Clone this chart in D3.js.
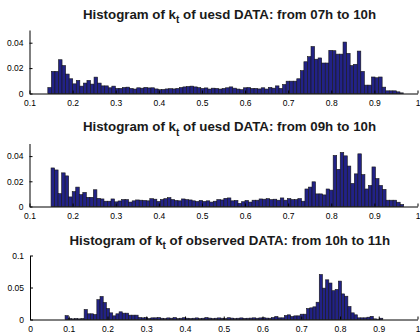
<!DOCTYPE html>
<html><head><meta charset="utf-8">
<script src="https://cdn.jsdelivr.net/npm/d3@7"></script>
<style>
html,body{margin:0;padding:0;background:#fff;}
svg{display:block;font-family:"Liberation Sans",Arial,Helvetica,sans-serif;}
</style></head>
<body><svg id="c" width="420" height="334"></svg>
<script>
// ---------- data ----------
const titles = [
  ["Histogram of k", "t", " of uesd DATA: from 07h to 10h"],
  ["Histogram of k", "t", " of uesd DATA: from 09h to 10h"],
  ["Histogram of k", "t", " of observed DATA: from 10h to 11h"]
];
const binStarts = [0.1425, 0.150, 0.0905];
const binWidths = [0.00825, 0.00818, 0.0082];

const counts1 = [
 0.0047,0.0174,0.0174,0.0266,0.022,0.0153,0.0116,0.0076,0.0103,0.0058,
 0.0082,0.0103,0.0074,0.0129,0.0082,0.006,0.006,0.0045,0.0058,0.004,
 0.004,0.0047,0.005,0.004,0.0035,0.0045,0.0042,0.0048,0.0044,0.0045,
 0.0036,0.003,0.0032,0.0036,0.0038,0.0036,0.004,0.0047,0.0052,0.0055,
 0.0058,0.0052,0.0046,0.004,0.0044,0.0035,0.0042,0.004,0.0035,0.004,
 0.0045,0.0052,0.0042,0.0035,0.003,0.0045,0.0047,0.004,0.004,0.0036,
 0.0045,0.0035,0.0048,0.0042,0.006,0.004,0.0071,0.0097,0.0097,0.0097,
 0.0116,0.018,0.025,0.029,0.037,0.027,0.028,0.024,0.024,0.034,
 0.0337,0.031,0.031,0.0405,0.0316,0.022,0.023,0.0334,0.0174,0.0066,
 0.0066,0.013,0.0124,0.013,0.005,0.0021,0.0021,0.0021,0.0013,0.0005
];
const counts2 = [
 0.0306,0.029,0.0102,0.0267,0.0243,0.0076,0.0118,0.0154,0.0094,0.0112,
 0.0073,0.0073,0.0133,0.0065,0.006,0.0042,0.0042,0.006,0.0037,0.0044,
 0.0055,0.0055,0.0035,0.0045,0.0052,0.005,0.0048,0.0045,0.0062,0.0058,
 0.004,0.0055,0.0062,0.007,0.0055,0.0048,0.0045,0.006,0.0055,0.0052,
 0.0045,0.004,0.0048,0.004,0.0045,0.0035,0.0042,0.0055,0.0052,0.0065,
 0.0068,0.0045,0.0048,0.0025,0.0038,0.0048,0.0035,0.005,0.005,0.006,
 0.0058,0.0062,0.0055,0.0058,0.005,0.0068,0.005,0.0063,0.0055,0.0055,
 0.0063,0.0042,0.0139,0.0154,0.0196,0.01,0.01,0.0092,0.0139,0.013,
 0.0405,0.0295,0.0429,0.0402,0.0321,0.0183,0.0259,0.0418,0.0253,0.0139,
 0.0167,0.0314,0.0222,0.0167,0.0136,0.005,0.005,0.005,0.0034,0.0016
];
const counts3 = [
 0.006,0.0015,0.001,0.0015,0.001,0.0015,0.0156,0.0089,0.0089,0.0078,
 0.031,0.036,0.0266,0.0172,0.0104,0.0057,0.0089,0.012,0.0099,0.0099,
 0.0068,0.0068,0.0068,0.0031,0.0026,0.003,0.0016,0.0026,0.0026,0.003,
 0.002,0.0015,0.0025,0.002,0.003,0.0015,0.002,0.0028,0.002,0.0015,
 0.002,0.0025,0.0015,0.002,0.003,0.0022,0.0015,0.002,0.0025,0.002,
 0.0015,0.0028,0.0022,0.0015,0.002,0.0025,0.0018,0.002,0.0022,0.0026,
 0.002,0.0025,0.0028,0.0022,0.002,0.003,0.0047,0.0026,0.0026,0.0062,
 0.0073,0.0047,0.0057,0.0057,0.0083,0.0083,0.0172,0.0182,0.0198,0.027,
 0.0703,0.049,0.062,0.057,0.045,0.047,0.06,0.04,0.0364,0.0203,
 0.0104,0.0073,0.0026,0.0026,0.0026,0.0036,0.005,0.001,0.0005,0.002
];
const allCounts = [counts1, counts2, counts3];

const xDomains = [[0.1, 1], [0.1, 1], [0, 1]];
const yDomains = [[0, 0.05], [0, 0.05], [0, 0.1]];
const xTickVals = [
  [0.1,0.2,0.3,0.4,0.5,0.6,0.7,0.8,0.9,1],
  [0.1,0.2,0.3,0.4,0.5,0.6,0.7,0.8,0.9,1],
  [0,0.1,0.2,0.3,0.4,0.5,0.6,0.7,0.8,0.9,1]
];
const yTickVals = [[0,0.02,0.04],[0,0.02,0.04],[0,0.05,0.1]];
const xTickLabels = [
  ["0.1","0.2","0.3","0.4","0.5","0.6","0.7","0.8","0.9","1"],
  ["0.1","0.2","0.3","0.4","0.5","0.6","0.7","0.8","0.9","1"],
  ["0","0.1","0.2","0.3","0.4","0.5","0.6","0.7","0.8","0.9","1"]
];
const yTickLabels = [["0","0.02","0.04"],["0","0.02","0.04"],["0","0.05","0.1"]];

// ---------- layout ----------
const boxes = [
  {left: 29.5, right: 417.5, top: 30, bottom: 93.5, titleY: 18.5},
  {left: 29.5, right: 417.5, top: 143.5, bottom: 206.5, titleY: 131},
  {left: 30, right: 417.5, top: 255.5, bottom: 319.5, titleY: 244.5}
];

const svg = d3.select("#c");

boxes.forEach((b, p) => {
  const x = d3.scaleLinear().domain(xDomains[p]).range([b.left, b.right]);
  const y = d3.scaleLinear().domain(yDomains[p]).range([b.bottom, b.top]);
  const g = svg.append("g");

  // bars
  const bins = allCounts[p].map((v, i) => ({
    x0: binStarts[p] + i * binWidths[p],
    x1: binStarts[p] + (i + 1) * binWidths[p],
    v: v
  }));
  g.append("g").selectAll("rect").data(bins).join("rect")
    .attr("x", d => x(d.x0))
    .attr("width", d => x(d.x1) - x(d.x0))
    .attr("y", d => y(d.v))
    .attr("height", d => y(0) - y(d.v))
    .attr("fill", "#222286")
    .attr("stroke", "#161616")
    .attr("stroke-width", 0.6);

  // x axis (ticks inward)
  const xa = g.append("g").attr("transform", `translate(0,${b.bottom})`)
    .call(d3.axisBottom(x).tickValues(xTickVals[p])
      .tickFormat((d, i) => xTickLabels[p][i])
      .tickSizeInner(-3).tickSizeOuter(0).tickPadding(6));
  xa.select(".domain").attr("stroke", "#000").attr("stroke-width", 1);
  xa.selectAll(".tick line").attr("stroke", "#000");
  xa.selectAll("text").attr("font-size", 8.5).attr("fill", "#000")
    .attr("dy", "0.71em");

  // y axis (ticks inward)
  const ya = g.append("g").attr("transform", `translate(${b.left},0)`)
    .call(d3.axisLeft(y).tickValues(yTickVals[p])
      .tickFormat((d, i) => yTickLabels[p][i])
      .tickSizeInner(-3).tickSizeOuter(0).tickPadding(6));
  ya.select(".domain").attr("stroke", "#000").attr("stroke-width", 1);
  ya.selectAll(".tick line").attr("stroke", "#000");
  ya.selectAll("text").attr("font-size", 8.5).attr("fill", "#000");

  // title
  const t = svg.append("text")
    .attr("x", (b.left + b.right) / 2 + 6)
    .attr("y", b.titleY)
    .attr("text-anchor", "middle")
    .attr("font-size", 13.3)
    .attr("font-weight", "bold")
    .attr("fill", "#1a1a1a");
  t.append("tspan").text(titles[p][0]);
  t.append("tspan").attr("font-size", 10).attr("dy", 4.5).text(titles[p][1]);
  t.append("tspan").attr("dy", -4.5).text(titles[p][2]);
});
</script>
</body></html>
